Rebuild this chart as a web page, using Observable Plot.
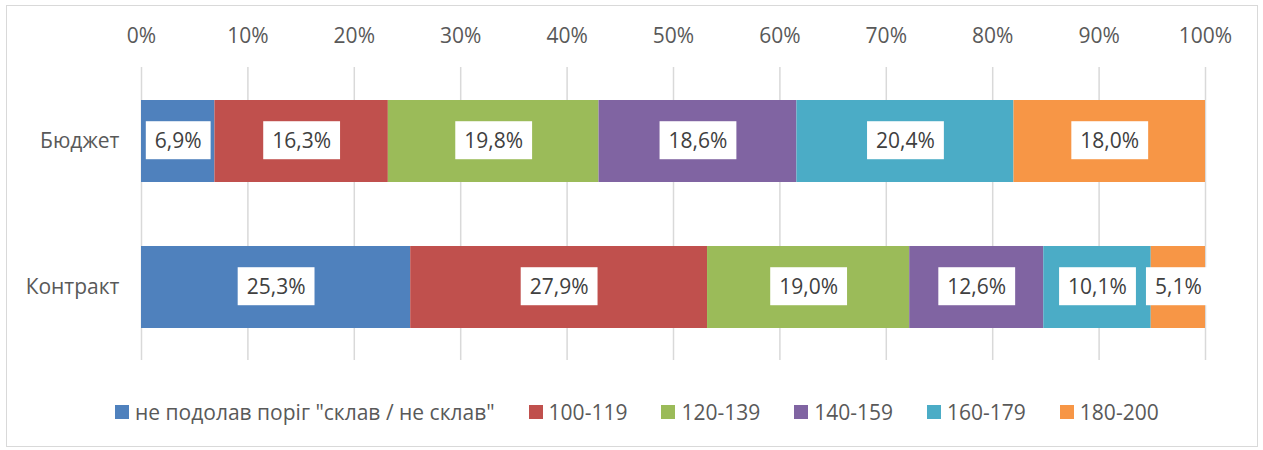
<!DOCTYPE html>
<html>
<head>
<meta charset="utf-8">
<script src="https://cdn.jsdelivr.net/npm/d3@7"></script>
<script src="https://cdn.jsdelivr.net/npm/@observablehq/plot@0.6"></script>
<style>
  html, body { margin: 0; padding: 0; background: #fff; }
  #frame {
    position: absolute; left: 6px; top: 5px; width: 1250px; height: 440px;
    border: 1px solid #d9d9d9; background: #fff; overflow: hidden;
    font-family: "Open Sans", sans-serif;
  }
  #legend {
    position: absolute; left: 108px; top: 394px; height: 24px;
    display: flex; align-items: center; font-size: 21px; color: #595959; white-space: nowrap;
  }
  .item { display: flex; align-items: center; margin-right: 34px; }
  .sw { width: 14px; height: 14px; margin-right: 6px; }
</style>
</head>
<body>
<div id="frame"><div id="chart"></div><div id="legend"></div></div>
<script>
const categories = ["Бюджет", "Контракт"];
const series = ["не подолав поріг \"склав / не склав\"", "100-119", "120-139", "140-159", "160-179", "180-200"];
const budgetValues = [6.9, 16.3, 19.8, 18.6, 20.4, 18.0];
const contractValues = [25.3, 27.9, 19.0, 12.6, 10.1, 5.1];
const colors = ["#4F81BD", "#C0504D", "#9BBB59", "#8064A2", "#4BACC6", "#F79646"];
const xTicks = [0, 10, 20, 30, 40, 50, 60, 70, 80, 90, 100];

const rows = [];
[budgetValues, contractValues].forEach((vals, ci) => {
  vals.forEach((v, si) => rows.push({cat: categories[ci], series: series[si], value: v}));
});
const fmt = v => v.toFixed(1).replace(".", ",") + "%";

const chart = Plot.plot({
  width: 1250,
  height: 370,
  marginLeft: 134,
  marginRight: 52,
  marginTop: 61,
  marginBottom: 16,
  style: {fontFamily: "Open Sans, sans-serif", fontSize: "21px", background: "#fff"},
  x: {domain: [0, 100], label: null},
  y: {domain: categories, paddingInner: 0.44, paddingOuter: 0.22, label: null},
  color: {domain: series, range: colors},
  marks: [
    Plot.ruleX(xTicks, {stroke: "#d9d9d9", strokeWidth: 1.5}),
    Plot.axisX(xTicks, {anchor: "top", tickSize: 0, tickPadding: 25, tickFormat: d => d + "%", fill: "#595959", fontSize: 21, label: null}),
    Plot.axisY({tickSize: 0, tickPadding: 22, fill: "#595959", fontSize: 21, label: null}),
    Plot.barX(rows, Plot.stackX({x: "value", y: "cat", fill: "series", order: null})),
    Plot.text(rows, Plot.stackX({x: "value", y: "cat", text: d => fmt(d.value), order: null, fill: "#404040", fontSize: 21}))
  ]
});
document.getElementById("chart").appendChild(chart);

// white boxes behind data labels
const svgNS = "http://www.w3.org/2000/svg";
Array.from(chart.querySelectorAll("text"))
  .filter(t => /^\d+,\d%$/.test(t.textContent.trim()))
  .forEach(t => {
    const b = t.getBBox();
    const r = document.createElementNS(svgNS, "rect");
    const cy = b.y + b.height / 2;
    r.setAttribute("x", b.x - 9);
    r.setAttribute("y", cy - 19);
    r.setAttribute("width", b.width + 18);
    r.setAttribute("height", 38);
    r.setAttribute("fill", "#ffffff");
    const tr = t.getAttribute("transform");
    if (tr) r.setAttribute("transform", tr);
    t.parentNode.insertBefore(r, t);
  });

const legend = document.getElementById("legend");
series.forEach((s, i) => {
  const it = document.createElement("div");
  it.className = "item";
  const sw = document.createElement("div");
  sw.className = "sw";
  sw.style.background = colors[i];
  const tx = document.createElement("span");
  tx.textContent = s;
  it.appendChild(sw); it.appendChild(tx);
  legend.appendChild(it);
});
</script>
</body>
</html>
